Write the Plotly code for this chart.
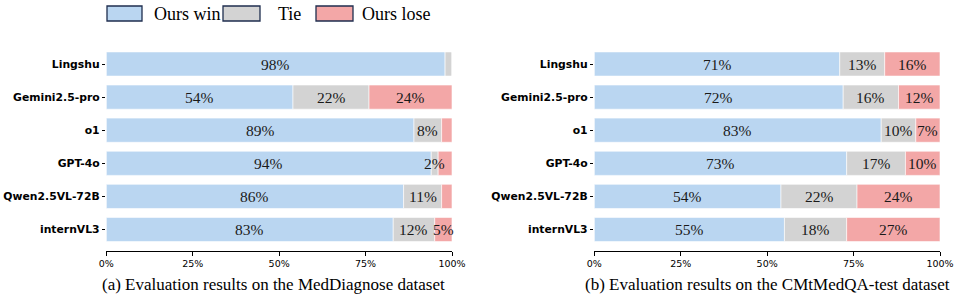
import plotly.graph_objects as go

models = ["Lingshu", "Gemini2.5-pro", "o1", "GPT-4o", "Qwen2.5VL-72B", "internVL3"]
series_names = ["Ours win", "Tie", "Ours lose"]
colors = ["#BAD6F1", "#D3D3D3", "#F3A7A7"]

# (a) MedDiagnose
med_win = [98, 54, 89, 94, 86, 83]
med_tie = [2, 22, 8, 2, 11, 12]
med_lose = [0, 24, 3, 4, 3, 5]
med_show = [[True, True, True, True, True, True],
            [False, True, True, True, True, True],
            [False, True, False, False, False, True]]

# (b) CMtMedQA-test
cmt_win = [71, 72, 83, 73, 54, 55]
cmt_tie = [13, 16, 10, 17, 22, 18]
cmt_lose = [16, 12, 7, 10, 24, 27]
cmt_show = [[True] * 6, [True] * 6, [True] * 6]

captions = ["(a) Evaluation results on the MedDiagnose dataset",
            "(b) Evaluation results on the CMtMedQA-test dataset"]
xticks = [0, 25, 50, 75, 100]
xticklabels = [f"{t}%" for t in xticks]

W, H = 976, 305
fig = go.Figure()

panels = [((med_win, med_tie, med_lose), med_show, "x", "y"),
          ((cmt_win, cmt_tie, cmt_lose), cmt_show, "x2", "y2")]

annotations = []
for pi, (vals, show, xa, ya) in enumerate(panels):
    base = [0] * len(models)
    for si, (name, v) in enumerate(zip(series_names, vals)):
        fig.add_trace(go.Bar(
            y=models, x=v, base=base, orientation="h", name=name,
            marker=dict(color=colors[si], line=dict(color="white", width=0.6)),
            width=0.73, xaxis=xa, yaxis=ya, showlegend=False,
            hoverinfo="x+y+name"))
        for mi, m in enumerate(models):
            if show[si][mi] and v[mi] > 0:
                annotations.append(dict(
                    x=base[mi] + v[mi] / 2, y=m, xref=xa, yref=ya,
                    text=f"{v[mi]}%", showarrow=False,
                    font=dict(family="Liberation Serif", size=15.5, color="#1a1a1a")))
        base = [b + x for b, x in zip(base, v)]

# captions
cap_x = [273 / W, 767 / W]
for cx, cap in zip(cap_x, captions):
    annotations.append(dict(x=cx, y=1 - 284 / H, xref="paper", yref="paper",
                            text=cap, showarrow=False, xanchor="center", yanchor="middle",
                            font=dict(family="Liberation Serif", size=17, color="black")))

# legend drawn manually
shapes = []
box_x = [(107, 142), (223, 260), (316, 353)]
txt_x = [152, 276, 360]
for (x0, x1), tx, name, c in zip(box_x, txt_x, series_names, colors):
    shapes.append(dict(type="rect", xref="paper", yref="paper",
                       x0=x0 / W, x1=x1 / W, y0=1 - 21 / H, y1=1 - 6 / H,
                       fillcolor=c, line=dict(color="#1F2E4F", width=1.3)))
    annotations.append(dict(x=tx / W, y=1 - 13.5 / H, xref="paper", yref="paper",
                            text=name, showarrow=False, xanchor="left", yanchor="middle",
                            font=dict(family="Liberation Serif", size=18, color="black")))

ydom = [1 - 251 / H, 1 - 42.5 / H]
xaxis_common = dict(range=[0, 100], tickmode="array", tickvals=xticks, ticktext=xticklabels,
                    showline=True, linecolor="black", linewidth=1, automargin=False,
                    ticks="outside", ticklen=3.5, tickcolor="black", tickwidth=0.8,
                    showgrid=False, zeroline=False, fixedrange=True,
                    tickfont=dict(family="DejaVu Sans", size=9.5, color="black"))
yaxis_common = dict(type="category", categoryorder="array", categoryarray=models,
                    range=[5.65, -0.65], showline=False, ticks="outside", ticklen=3.5,
                    tickcolor="black", tickwidth=0.8, showgrid=False, zeroline=False,
                    fixedrange=True, automargin=False,
                    tickfont=dict(family="DejaVu Sans", size=10.8, color="black", weight="bold"))

fig.update_layout(
    width=W, height=H, margin=dict(l=0, r=0, t=0, b=0, autoexpand=False),
    paper_bgcolor="white", plot_bgcolor="white", barmode="overlay",
    xaxis=dict(domain=[106.3 / W, 452 / W], anchor="y", **xaxis_common),
    yaxis=dict(domain=ydom, anchor="x", **yaxis_common),
    xaxis2=dict(domain=[594.3 / W, 940 / W], anchor="y2", **xaxis_common),
    yaxis2=dict(domain=ydom, anchor="x2", **yaxis_common),
    annotations=annotations, shapes=shapes,
)

fig.write_html("out.html", config={"displayModeBar": False},
               post_script="document.body.style.margin='0';document.body.style.overflow='hidden';")
